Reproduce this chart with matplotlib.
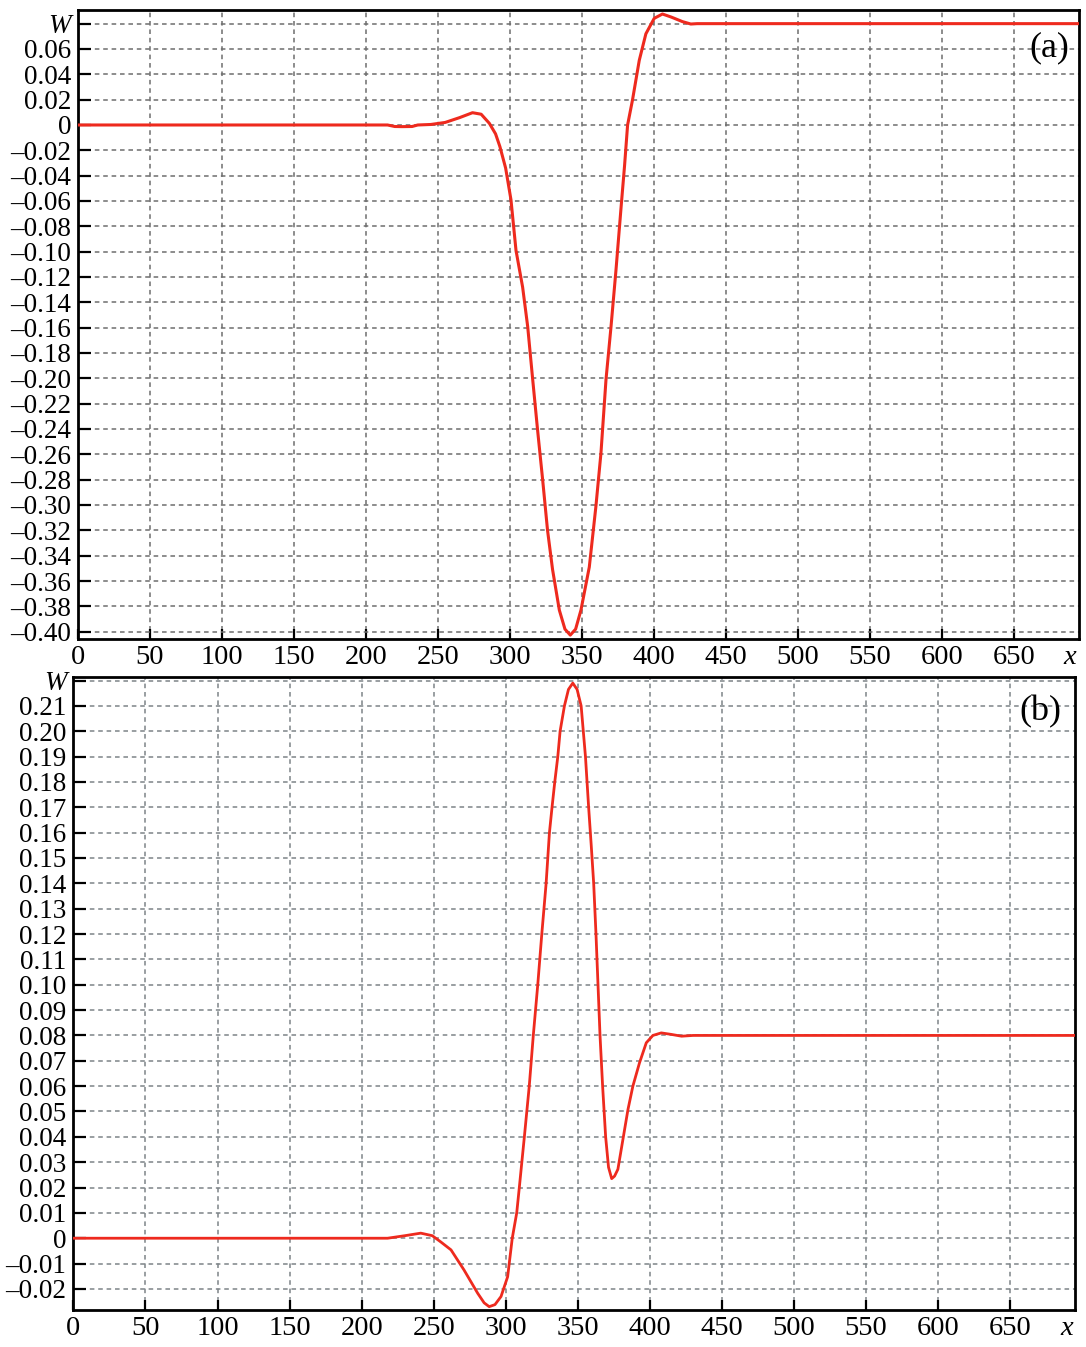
import matplotlib
matplotlib.use("Agg")
import matplotlib.pyplot as plt

# panel (a): W(x)
xa = [0, 215, 220, 225, 232, 236, 245, 255, 265, 274,
      280, 285.7, 290, 293, 297, 300.7, 304.2, 308.8, 312.3, 315.8,
      319.2, 322.7, 326.1, 329.6, 334.3, 338.2, 341.9, 345.6, 349.3, 355.1,
      359.7, 363.2, 366.7, 370.2, 373.6, 377.1, 379.6, 381.7, 385.1, 389.8,
      394.4, 400.2, 405.9, 412, 419.8, 425.6, 430, 695]
wa = [0, 0, -0.0012, -0.0013, -0.0012, 0, 0.0004, 0.002, 0.0058, 0.0097,
      0.0085, 0.0013, -0.007, -0.017, -0.034, -0.059, -0.099, -0.128, -0.159, -0.201,
      -0.241, -0.280, -0.320, -0.351, -0.383, -0.398, -0.4027, -0.398, -0.383, -0.349,
      -0.301, -0.259, -0.201, -0.159, -0.115, -0.066, -0.032, 0.0, 0.0197, 0.051,
      0.072, 0.0842, 0.0876, 0.0852, 0.0816, 0.0797, 0.08, 0.08]

# panel (b)
xb = [0, 218, 230, 241, 249, 255, 262, 271, 280.5, 285,
      288.5, 292.5, 296.7, 301.3, 304.5, 307.6, 309.4, 312.9, 316.3, 319.1,
      322.2, 325, 328, 330.3, 332.1, 334, 336.1, 337.7, 340.7, 343.5,
      346.5, 349.5, 352.3, 355.3, 357.5, 359.3, 361.0, 362.6, 364.0, 365.4,
      367.2, 369.3, 371.3, 373.5, 375.5, 377.8, 381.3, 384.8, 388.2, 392.8,
      397.5, 402.1, 407.9, 414.9, 422, 430, 695]
wb = [0, 0, 0.001, 0.002, 0.001, -0.0015, -0.0046, -0.0125, -0.0217, -0.0255,
      -0.027, -0.0262, -0.023, -0.0152, 0, 0.01, 0.02, 0.04, 0.06, 0.08,
      0.10, 0.12, 0.14, 0.16, 0.17, 0.18, 0.19, 0.20, 0.21, 0.2165,
      0.219, 0.2165, 0.21, 0.19, 0.17, 0.155, 0.14, 0.12, 0.10, 0.08,
      0.06, 0.04, 0.028, 0.0235, 0.0245, 0.0272, 0.039, 0.0508, 0.06, 0.0692,
      0.0771, 0.08, 0.081, 0.0804, 0.0797, 0.08, 0.08]

x_ticks = [0, 50, 100, 150, 200, 250, 300, 350, 400, 450, 500, 550, 600, 650]
a_yticks = [round(0.08 - 0.02 * i, 2) for i in range(25)]
b_yticks = [round(0.22 - 0.01 * i, 2) for i in range(25)]

plt.rcParams['font.family'] = ['Liberation Serif', 'DejaVu Serif']
RED = '#ee2a1e'


def fmt(v, nd):
    if abs(v) < 1e-9:
        return '0'
    s = f"{abs(v):.{nd}f}"
    return ('\u2013' + s) if v < 0 else s


def setup(ax, yticks, ylim, label, lab_pos, grid_col):
    ax.set_xlim(0, 695)
    ax.set_ylim(*ylim)
    ax.set_xticks(x_ticks)
    ax.set_xticklabels([str(t) for t in x_ticks], fontsize=20.5)
    ax.set_yticks(yticks)
    labels = ['W'] + [fmt(v, 2) for v in yticks[1:]]
    ax.set_yticklabels(labels, fontsize=19.5)
    ax.get_yticklabels()[0].set_fontstyle('italic')
    ax.tick_params(axis='y', direction='in', length=9, width=1.6, pad=5,
                   left=True, right=False)
    ax.tick_params(axis='x', direction='in', length=7, width=1.6, pad=4,
                   bottom=True, top=False)
    for sp in ax.spines.values():
        sp.set_linewidth(2.0)
    ax.grid(True, color=grid_col, linestyle=(0, (3, 2.5)), linewidth=1.1)
    ax.set_axisbelow(True)
    ax.annotate('x', xy=(689, 0), xycoords=('data', 'axes fraction'),
                xytext=(0, -4), textcoords='offset points',
                ha='center', va='top', fontsize=20.5, style='italic')
    ax.text(lab_pos[0], lab_pos[1], label, transform=ax.transAxes,
            ha='center', va='center', fontsize=26)


fig = plt.figure(figsize=(10.86, 13.47), dpi=100)

ax1 = fig.add_axes([0.0718, 0.5256, 0.9215, 0.4670])
ax1.plot(xa, wa, color=RED, linewidth=2.2, zorder=3)
setup(ax1, a_yticks, (-0.4058, 0.0908), '(a)', (0.971, 0.94), '#6e6e6e')

ax2 = fig.add_axes([0.0676, 0.0275, 0.9223, 0.4699])
ax2.plot(xb, wb, color=RED, linewidth=2.0, zorder=3)
setup(ax2, b_yticks, (-0.0283, 0.2214), '(b)', (0.965, 0.945), '#7d8488')

fig.savefig('out.png', dpi=100)
